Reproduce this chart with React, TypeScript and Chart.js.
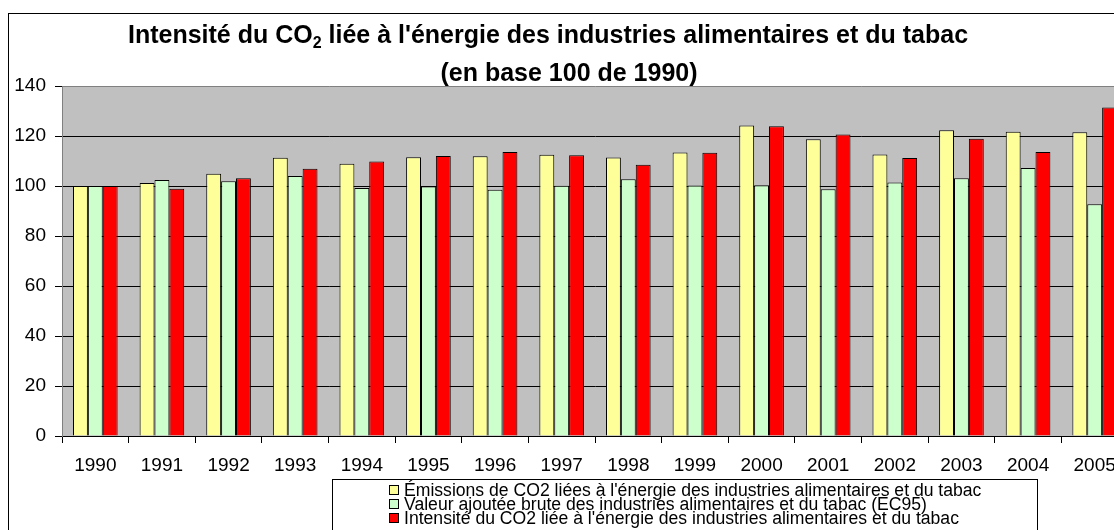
import React, { useEffect, useRef } from "react";
import { Chart, registerables } from "chart.js";

Chart.register(...registerables);

// ---------- data ----------
const YEARS = ["1990", "1991", "1992", "1993", "1994", "1995", "1996", "1997", "1998", "1999", "2000", "2001", "2002", "2003", "2004", "2005"];
const EMISSIONS = [100, 101.2, 104.9, 111.3, 108.9, 111.5, 111.9, 112.5, 111.4, 113.4, 124.2, 118.7, 112.6, 122.3, 121.7, 121.5];
const VALEUR_AJOUTEE = [100, 102.4, 101.9, 104.0, 99.2, 99.8, 98.5, 100.1, 102.7, 100.2, 100.3, 98.7, 101.4, 103.1, 107.2, 92.7];
const INTENSITE = [100, 98.9, 103.1, 106.9, 109.8, 112.0, 113.6, 112.3, 108.5, 113.3, 123.9, 120.6, 111.2, 118.9, 113.6, 131.4];

const SERIES_LABELS = [
  "Émissions de CO2 liées à l'énergie des industries alimentaires et du tabac",
  "Valeur ajoutée brute des industries alimentaires et du tabac (EC95)",
  "Intensité du CO2 liée à l'énergie des industries alimentaires et du tabac",
];
const SERIES_COLORS = ["#FFFF99", "#CCFFCC", "#FF0000"];

const Y_MIN = 0;
const Y_MAX = 140;
const Y_STEP = 20;

// title: [text, isSubscript]
const TITLE_LINE1: [string, boolean][] = [
  ["Intensité du CO", false],
  ["2", true],
  [" liée à l'énergie des industries alimentaires et du tabac", false],
];
const TITLE_LINE2 = "(en base 100 de 1990)";

// ---------- layout ----------
const FONT = 'Arial, "Liberation Sans", Helvetica, sans-serif';
const CW = 1140;
const CH = 520;
const PLOT_LEFT = 53;
const PLOT_TOP = 72;
const PLOT_RIGHT = 1119;
const PLOT_BOTTOM = 422;
const X_AXIS_H = 50;

const plotBgPlugin = {
  id: "plotBg",
  beforeDraw(chart: any) {
    const { ctx, chartArea: a } = chart;
    ctx.save();
    ctx.fillStyle = "#C0C0C0";
    ctx.fillRect(a.left, a.top, a.right - a.left, a.bottom - a.top);
    ctx.restore();
  },
};

const titlePlugin = {
  id: "customTitle",
  afterDraw(chart: any) {
    const { ctx } = chart;
    const cx1 = 539;
    const cx2 = 560;
    const mainFont = `bold 25px ${FONT}`;
    const subFont = `bold 16px ${FONT}`;
    ctx.save();
    ctx.fillStyle = "#000";
    ctx.textBaseline = "alphabetic";
    ctx.textAlign = "left";
    let total = 0;
    const widths = TITLE_LINE1.map(([t, sub]) => {
      ctx.font = sub ? subFont : mainFont;
      const w = ctx.measureText(t).width;
      total += w;
      return w;
    });
    let x = cx1 - total / 2;
    const base1 = 29;
    TITLE_LINE1.forEach(([t, sub], i) => {
      ctx.font = sub ? subFont : mainFont;
      ctx.fillText(t, x, sub ? base1 + 5 : base1);
      x += widths[i];
    });
    ctx.font = mainFont;
    ctx.textAlign = "center";
    ctx.fillText(TITLE_LINE2, cx2, 67);
    ctx.restore();
  },
};

const legendPlugin = {
  id: "customLegend",
  afterDraw(chart: any) {
    const { ctx } = chart;
    ctx.save();
    ctx.fillStyle = "#FFFFFF";
    ctx.fillRect(323.5, 465.5, 705, 70);
    ctx.strokeStyle = "#000";
    ctx.lineWidth = 1;
    ctx.strokeRect(323.5, 465.5, 705, 70);
    ctx.font = `17.6px ${FONT}`;
    ctx.textBaseline = "alphabetic";
    ctx.textAlign = "left";
    chart.data.datasets.forEach((ds: any, i: number) => {
      const base = 481.5 + 14 * i;
      const top = base - 11;
      ctx.fillStyle = ds.backgroundColor;
      ctx.fillRect(380.5, Math.round(top) + 0.5, 9, 9);
      ctx.strokeStyle = "#000";
      ctx.strokeRect(380.5, Math.round(top) + 0.5, 9, 9);
      ctx.fillStyle = "#000";
      ctx.fillText(ds.label, 395, base);
    });
    ctx.restore();
  },
};

export default function App() {
  const ref = useRef<HTMLCanvasElement | null>(null);

  useEffect(() => {
    if (!ref.current) return;
    const datasets = [EMISSIONS, VALEUR_AJOUTEE, INTENSITE].map((vals, i) => ({
      label: SERIES_LABELS[i],
      data: vals,
      backgroundColor: SERIES_COLORS[i],
      borderColor: "#000000",
      borderWidth: 1,
      categoryPercentage: 0.67,
      barPercentage: 1.0,
    }));
    const chart = new Chart(ref.current, {
      type: "bar",
      data: { labels: YEARS, datasets },
      options: {
        animation: false,
        responsive: false,
        maintainAspectRatio: false,
        devicePixelRatio: 1,
        layout: {
          padding: {
            top: PLOT_TOP,
            left: 0,
            right: CW - PLOT_RIGHT,
            bottom: CH - PLOT_BOTTOM - X_AXIS_H,
          },
        },
        plugins: {
          legend: { display: false },
          title: { display: false },
          tooltip: { enabled: false },
        },
        scales: {
          x: {
            offset: true,
            afterFit(scale: any) {
              scale.height = X_AXIS_H;
            },
            grid: {
              offset: true,
              drawOnChartArea: false,
              drawTicks: true,
              tickLength: 7,
              color: "#000",
            },
            border: { display: true, color: "#000", width: 1 },
            ticks: {
              color: "#000",
              font: { family: FONT, size: 19 },
              padding: 11,
              maxRotation: 0,
              autoSkip: false,
            },
          },
          y: {
            min: Y_MIN,
            max: Y_MAX,
            afterFit(scale: any) {
              scale.width = PLOT_LEFT;
            },
            grid: {
              color: (c: any) => (c.tick && c.tick.value === Y_MAX ? "#808080" : "#000"),
              tickColor: "#000",
              tickLength: 7,
              drawTicks: true,
            },
            border: { display: true, color: "#808080", width: 1 },
            ticks: {
              stepSize: Y_STEP,
              color: "#000",
              font: { family: FONT, size: 19 },
              padding: 9,
            },
          },
        },
      },
      plugins: [plotBgPlugin, titlePlugin, legendPlugin],
    });
    return () => chart.destroy();
  }, []);

  return (
    <div
      style={{
        position: "fixed",
        left: 0,
        top: 0,
        width: 1114,
        height: 530,
        overflow: "hidden",
        background: "#fff",
      }}
    >
      <div
        style={{
          position: "absolute",
          left: 8,
          top: 13,
          width: CW,
          height: CH,
          border: "1px solid #000",
          background: "#fff",
        }}
      >
        <canvas
          ref={ref}
          width={CW}
          height={CH}
          style={{ display: "block", width: CW, height: CH }}
        />
      </div>
    </div>
  );
}
